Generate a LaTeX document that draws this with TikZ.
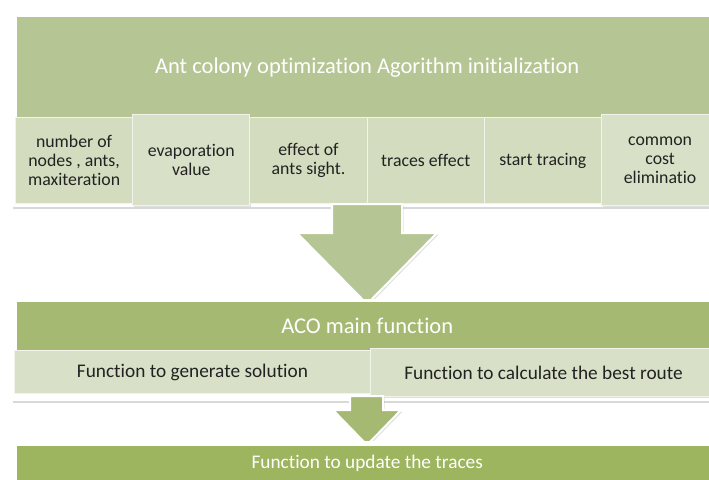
\documentclass[tikz,border=0pt]{standalone}
\usepackage{fontspec}
\setmainfont[Ligatures=NoCommon]{Carlito}
\usepackage{xcolor}
\usetikzlibrary{shadows}

\definecolor{initgreen}{HTML}{B5C593}
\definecolor{maingreen}{HTML}{A6B973}
\definecolor{tracegreen}{HTML}{9CB55E}
\definecolor{paleA}{HTML}{D3DCBE}
\definecolor{paleB}{HTML}{D8E1C8}
\definecolor{inkgray}{HTML}{222222}

\begin{document}
\begin{tikzpicture}[x=1pt,y=-1pt,
    frame/.style={fill=white, drop shadow={opacity=0.3, shadow xshift=1pt, shadow yshift=-1.5pt}},
    head/.style={fill=#1, text=white, anchor=north west, inner sep=0pt},
    part/.style={fill=paleA, draw=white!70!paleA, line width=1pt, text=inkgray,
        anchor=north west, align=center, inner sep=2pt, minimum width=117.2,
        minimum height=86, font=\fontsize{17.8}{19}\selectfont},
    partup/.style={part, fill=paleB, minimum height=91, yshift=3pt,
        drop shadow={opacity=0.25, shadow xshift=1pt, shadow yshift=-1pt}},
    blockarrow/.style={fill=#1, draw=white, line width=2pt, line join=miter,
        drop shadow={opacity=0.25, shadow xshift=1.5pt, shadow yshift=-1.5pt}}]
    \clip (0,0) rectangle (709,479);
    \fill[white] (0,0) rectangle (709,479);

    % Initialization block
    \node[frame, anchor=north west, minimum width=710, minimum height=194] (initbox) at (12,13) {};
    \node[head=initgreen, minimum width=700, minimum height=100,
        font=\fontsize{22.5}{26}\selectfont] (init) at (17,17) {Ant colony optimization Agorithm initialization};
    \foreach \i/\st/\txt in {1/part/{number of\\nodes , ants,\\maxiteration},
            2/partup/{evaporation\\value}, 3/part/{effect of\\ants sight.},
            4/part/{traces effect}, 5/part/{start tracing},
            6/partup/{common\\cost\\eliminatio}}
        \node[\st] (p\i) at ({15+117.2*(\i-1)},117) {\txt};

    % Arrow to main function
    \path[blockarrow=initgreen] (332,204) -- (402,204) -- (402,233) -- (437,233)
        -- (367,304) -- (297,233) -- (332,233) -- cycle;

    % ACO main function block
    \node[frame, anchor=north west, minimum width=710, minimum height=102] (mainbox) at (12,299) {};
    \node[head=maingreen, minimum width=700, minimum height=48,
        font=\fontsize{22.5}{26}\selectfont] (main) at (17,302) {ACO main function};
    \node[part, fill=paleB, minimum width=356, minimum height=43,
        font=\fontsize{19.3}{22}\selectfont] (gen) at (14,350) {Function to generate solution};
    \node[partup, minimum width=346, minimum height=48, yshift=-3pt,
        font=\fontsize{19.3}{22}\selectfont] (best) at (370,348) {Function to calculate the best route};

    % Arrow to trace update
    \path[blockarrow=maingreen] (350,396) -- (383,396) -- (383,410) -- (401,410)
        -- (367,445) -- (333,410) -- (350,410) -- cycle;

    % Trace update block
    \node[frame, anchor=north west, minimum width=710, minimum height=50] (tracebox) at (12,441) {};
    \node[head=tracegreen, minimum width=700, minimum height=34,
        font=\fontsize{19.3}{22}\selectfont] (update) at (17,446) {Function to update the traces};
\end{tikzpicture}
\end{document}
